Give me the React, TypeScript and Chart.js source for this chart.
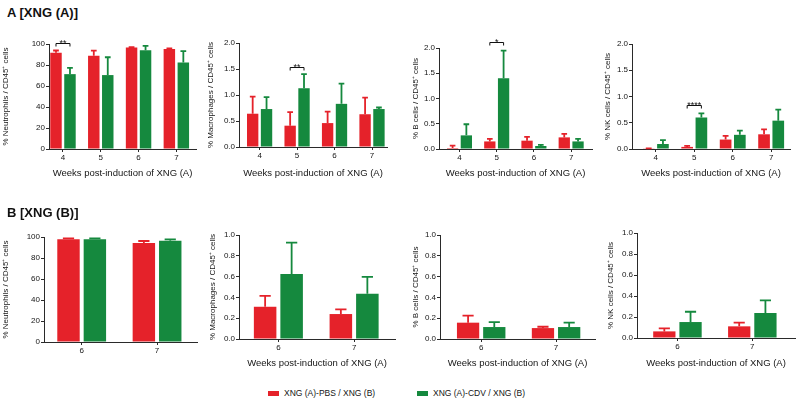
import React, { useEffect, useRef } from 'react';
import { Chart, registerables } from 'chart.js';

Chart.register(...registerables);

// ---------- data ----------
const weeksA = [4, 5, 6, 7];
const weeksB = [6, 7];
const seriesNames = ['XNG (A)-PBS / XNG (B)', 'XNG (A)-CDV / XNG (B)'];
const xAxisTitle = 'Weeks post-induction of XNG (A)';

// Panel A [XNG (A)] — means and SEM
const aNeutroPBS = [91.6, 88.9, 96.6, 95.2];
const aNeutroPBSSem = [2.2, 4.8, 0.3, 0.5];
const aNeutroCDV = [71.3, 70.4, 94.1, 82.5];
const aNeutroCDVSem = [6.0, 17.0, 4.2, 10.8];

const aMacroPBS = [0.64, 0.41, 0.46, 0.63];
const aMacroPBSSem = [0.33, 0.26, 0.22, 0.32];
const aMacroCDV = [0.73, 1.13, 0.83, 0.73];
const aMacroCDVSem = [0.23, 0.27, 0.39, 0.03];

const aBcellPBS = [0.02, 0.15, 0.165, 0.23];
const aBcellPBSSem = [0.045, 0.05, 0.075, 0.07];
const aBcellCDV = [0.27, 1.4, 0.06, 0.15];
const aBcellCDVSem = [0.22, 0.55, 0.02, 0.05];

const aNkPBS = [0.006, 0.04, 0.18, 0.28];
const aNkPBSSem = [0.007, 0.02, 0.07, 0.095];
const aNkCDV = [0.095, 0.6, 0.27, 0.54];
const aNkCDVSem = [0.075, 0.08, 0.08, 0.21];

// Panel B [XNG (B)]
const bNeutroPBS = [97.8, 94.3];
const bNeutroPBSSem = [0.9, 1.9];
const bNeutroCDV = [97.8, 96.5];
const bNeutroCDVSem = [0.9, 1.3];

const bMacroPBS = [0.31, 0.24];
const bMacroPBSSem = [0.105, 0.044];
const bMacroCDV = [0.626, 0.434];
const bMacroCDVSem = [0.3, 0.163];

const bBcellPBS = [0.157, 0.105];
const bBcellPBSSem = [0.067, 0.013];
const bBcellCDV = [0.115, 0.115];
const bBcellCDVSem = [0.048, 0.042];

const bNkPBS = [0.063, 0.111];
const bNkPBSSem = [0.029, 0.035];
const bNkCDV = [0.152, 0.238];
const bNkCDVSem = [0.098, 0.121];

// significance brackets: week, bracket level (data units), label
const aNeutroSig = [{ week: 4, level: 100.7, label: '**' }];
const aMacroSig = [{ week: 5, level: 1.545, label: '**' }];
const aBcellSig = [{ week: 5, level: 2.125, label: '*' }];
const aNkSig = [{ week: 5, level: 0.84, label: '****' }];

// ---------- styles ----------
const RED = '#e5222a';
const GREEN = '#15893e';
const AXIS = '#2a2a2a';
const TEXT = '#151515';
const FONT = "'Liberation Sans', Arial, sans-serif";

type PanelCfg = {
  weeks: number[];
  pbs: number[]; pbsSem: number[]; cdv: number[]; cdvSem: number[];
  sig: { week: number; level: number; label: string }[];
  yTitle: string; xTitle: string | null;
  yMax: number; yStep: number; decimals: number;
  L: number; T: number; W: number; H: number;
  x0: number; x1: number; yT: number; yB: number; yTitleX: number; xTitleY: number;
  xMin: number; xMax: number; cat: number; bar: number;
};

const rowA = { T: 20, H: 165, xTitleY: 173, cat: 0.74, bar: 0.82 };
const rowB = { T: 215, H: 160, xTitleY: 363, cat: 0.70, bar: 0.85 };

const panels: PanelCfg[] = [
  { weeks: weeksA, pbs: aNeutroPBS, pbsSem: aNeutroPBSSem, cdv: aNeutroCDV, cdvSem: aNeutroCDVSem, sig: aNeutroSig,
    yTitle: '% Neutrophils / CD45⁺ cells', xTitle: xAxisTitle, yMax: 100, yStep: 20, decimals: 0,
    L: 0, W: 200, x0: 49, x1: 196, yT: 44, yB: 149, yTitleX: 6, xMin: 3.63, xMax: 7.52, ...rowA },
  { weeks: weeksA, pbs: aMacroPBS, pbsSem: aMacroPBSSem, cdv: aMacroCDV, cdvSem: aMacroCDVSem, sig: aMacroSig,
    yTitle: '% Macrophages / CD45⁺ cells', xTitle: xAxisTitle, yMax: 2, yStep: 0.5, decimals: 1,
    L: 200, W: 200, x0: 239, x1: 387, yT: 43, yB: 147, yTitleX: 210.7, xMin: 3.45, xMax: 7.4, ...rowA },
  { weeks: weeksA, pbs: aBcellPBS, pbsSem: aBcellPBSSem, cdv: aBcellCDV, cdvSem: aBcellCDVSem, sig: aBcellSig,
    yTitle: '% B cells / CD45⁺ cells', xTitle: xAxisTitle, yMax: 2, yStep: 0.5, decimals: 1,
    L: 400, W: 200, x0: 439, x1: 592, yT: 48, yB: 149, yTitleX: 416, xMin: 3.45, xMax: 7.56, ...rowA },
  { weeks: weeksA, pbs: aNkPBS, pbsSem: aNkPBSSem, cdv: aNkCDV, cdvSem: aNkCDVSem, sig: aNkSig,
    yTitle: '% NK cells / CD45⁺ cells', xTitle: xAxisTitle, yMax: 2, yStep: 0.5, decimals: 1,
    L: 600, W: 200, x0: 632, x1: 790, yT: 44, yB: 149, yTitleX: 607.5, xMin: 3.38, xMax: 7.49, ...rowA },
  { weeks: weeksB, pbs: bNeutroPBS, pbsSem: bNeutroPBSSem, cdv: bNeutroCDV, cdvSem: bNeutroCDVSem, sig: [],
    yTitle: '% Neutrophils / CD45⁺ cells', xTitle: null, yMax: 100, yStep: 20, decimals: 0,
    L: 0, W: 200, x0: 44, x1: 197, yT: 237, yB: 342, yTitleX: 6, xMin: 5.5, xMax: 7.53, ...rowB },
  { weeks: weeksB, pbs: bMacroPBS, pbsSem: bMacroPBSSem, cdv: bMacroCDV, cdvSem: bMacroCDVSem, sig: [],
    yTitle: '% Macrophages / CD45⁺ cells', xTitle: xAxisTitle, yMax: 1, yStep: 0.2, decimals: 1,
    L: 200, W: 200, x0: 239, x1: 395, yT: 235, yB: 339, yTitleX: 212.5, xMin: 5.48, xMax: 7.54, ...rowB },
  { weeks: weeksB, pbs: bBcellPBS, pbsSem: bBcellPBSSem, cdv: bBcellCDV, cdvSem: bBcellCDVSem, sig: [],
    yTitle: '% B cells / CD45⁺ cells', xTitle: xAxisTitle, yMax: 1, yStep: 0.2, decimals: 1,
    L: 400, W: 200, x0: 440, x1: 595, yT: 235, yB: 339, yTitleX: 416, xMin: 5.45, xMax: 7.52, ...rowB },
  { weeks: weeksB, pbs: bNkPBS, pbsSem: bNkPBSSem, cdv: bNkCDV, cdvSem: bNkCDVSem, sig: [],
    yTitle: '% NK cells / CD45⁺ cells', xTitle: xAxisTitle, yMax: 1, yStep: 0.2, decimals: 1,
    L: 600, W: 200, x0: 637, x1: 795, yT: 233, yB: 338, yTitleX: 611, xMin: 5.46, xMax: 7.57, ...rowB },
];

function Panel({ cfg }: { cfg: PanelCfg }) {
  const ref = useRef<HTMLCanvasElement>(null);
  useEffect(() => {
    const canvas = ref.current;
    if (!canvas) return;
    const colors = [RED, GREEN];
    const sems = [cfg.pbsSem, cfg.cdvSem];
    const yTitleFont = 8;
    const xTitleFont = 9.5;

    const errorBars = {
      id: 'errorBars',
      afterDatasetsDraw(chart: any) {
        const ctx = chart.ctx;
        const ys = chart.scales.y;
        ctx.save();
        chart.data.datasets.forEach((ds: any, di: number) => {
          const meta = chart.getDatasetMeta(di);
          meta.data.forEach((bar: any, i: number) => {
            const p = bar.getProps(['x', 'y', 'width'], true);
            const top = ys.getPixelForValue(ds.data[i].y + sems[di][i]);
            const half = p.width / 4;
            ctx.strokeStyle = colors[di];
            ctx.lineWidth = 1.8;
            ctx.beginPath();
            ctx.moveTo(p.x, p.y);
            ctx.lineTo(p.x, top);
            ctx.moveTo(p.x - half, top);
            ctx.lineTo(p.x + half, top);
            ctx.stroke();
          });
        });
        ctx.restore();
      },
      afterDraw(chart: any) {
        const ctx = chart.ctx;
        const ys = chart.scales.y;
        ctx.save();
        cfg.sig.forEach((s) => {
          const idx = cfg.weeks.indexOf(s.week);
          const a = chart.getDatasetMeta(0).data[idx];
          const b = chart.getDatasetMeta(1).data[idx];
          const xa = a.x;
          const xb = b.x;
          const yb = Math.round(ys.getPixelForValue(s.level)) + 0.5;
          ctx.strokeStyle = '#111';
          ctx.lineWidth = 1;
          ctx.beginPath();
          ctx.moveTo(xa, yb + 3);
          ctx.lineTo(xa, yb);
          ctx.lineTo(xb, yb);
          ctx.lineTo(xb, yb + 3);
          ctx.stroke();
          ctx.fillStyle = '#111';
          ctx.font = `9px ${FONT}`;
          ctx.textAlign = 'center';
          ctx.textBaseline = 'alphabetic';
          ctx.fillText(s.label, (xa + xb) / 2, yb + 2);
        });
        ctx.restore();
      },
    };

    const chart = new Chart(canvas, {
      type: 'bar',
      data: {
        datasets: [
          { label: seriesNames[0], data: cfg.weeks.map((w, i) => ({ x: w, y: cfg.pbs[i] })), backgroundColor: RED,
            borderWidth: 0, categoryPercentage: cfg.cat, barPercentage: cfg.bar },
          { label: seriesNames[1], data: cfg.weeks.map((w, i) => ({ x: w, y: cfg.cdv[i] })), backgroundColor: GREEN,
            borderWidth: 0, categoryPercentage: cfg.cat, barPercentage: cfg.bar },
        ],
      },
      options: {
        responsive: false,
        animation: false,
        events: [],
        layout: { padding: { top: cfg.yT - cfg.T, right: cfg.L + cfg.W - cfg.x1, left: 0, bottom: 0 } },
        plugins: { legend: { display: false }, tooltip: { enabled: false } },
        scales: {
          x: {
            type: 'linear',
            offset: false,
            min: cfg.xMin,
            max: cfg.xMax,
            afterFit: (s: any) => { s.height = cfg.T + cfg.H - cfg.yB; },
            ticks: { stepSize: 1, includeBounds: false, color: TEXT, font: { size: 8, family: FONT }, padding: 1 },
            grid: { display: true, offset: false, drawOnChartArea: false, drawTicks: true, tickLength: 3, color: AXIS, lineWidth: 1 },
            border: { display: true, color: AXIS, width: 1 },
            title: {
              display: !!cfg.xTitle,
              text: cfg.xTitle || '',
              color: TEXT,
              font: { size: xTitleFont, family: FONT },
              padding: { top: 0, bottom: cfg.T + cfg.H - cfg.xTitleY - (xTitleFont * 1.2) / 2 },
            },
          },
          y: {
            min: 0,
            max: cfg.yMax,
            afterFit: (s: any) => { s.width = cfg.x0 - cfg.L; },
            ticks: {
              stepSize: cfg.yStep,
              color: TEXT,
              font: { size: 8, family: FONT },
              padding: 1,
              callback: (v: any) => Number(v).toFixed(cfg.decimals),
            },
            grid: { display: true, drawOnChartArea: false, drawTicks: true, tickLength: 3, color: AXIS, lineWidth: 1 },
            border: { display: true, color: AXIS, width: 1 },
            title: {
              display: true,
              text: cfg.yTitle,
              color: TEXT,
              font: { size: yTitleFont, family: FONT },
              padding: { top: cfg.yTitleX - cfg.L - (yTitleFont * 1.2) / 2, bottom: 0 },
            },
          },
        },
      },
      plugins: [errorBars],
    } as any);
    return () => chart.destroy();
  }, [cfg]);
  return (
    <canvas
      ref={ref}
      width={cfg.W}
      height={cfg.H}
      style={{ position: 'absolute', left: cfg.L, top: cfg.T, width: cfg.W, height: cfg.H }}
    />
  );
}

export default function App() {
  const heading: React.CSSProperties = {
    position: 'absolute', left: 7, fontFamily: FONT, fontWeight: 'bold', fontSize: 13, lineHeight: '14px', color: '#111',
    whiteSpace: 'nowrap', zIndex: 2,
  };
  const legendText: React.CSSProperties = {
    position: 'absolute', top: 388, fontFamily: FONT, fontSize: 8.5, lineHeight: '11px', color: TEXT, whiteSpace: 'nowrap',
  };
  return (
    <div style={{ position: 'absolute', left: 0, top: 0, width: 800, height: 405, background: '#fff', overflow: 'hidden' }}>
      {panels.map((p, i) => <Panel key={i} cfg={p} />)}
      <div style={{ ...heading, top: 6 }}>A [XNG (A)]</div>
      <div style={{ ...heading, top: 206 }}>B [XNG (B)]</div>
      <div style={{ position: 'absolute', left: 268, top: 391, width: 11, height: 5, background: RED }} />
      <div style={{ ...legendText, left: 284 }}>{seriesNames[0]}</div>
      <div style={{ position: 'absolute', left: 417, top: 391, width: 11, height: 5, background: GREEN }} />
      <div style={{ ...legendText, left: 433 }}>{seriesNames[1]}</div>
    </div>
  );
}
